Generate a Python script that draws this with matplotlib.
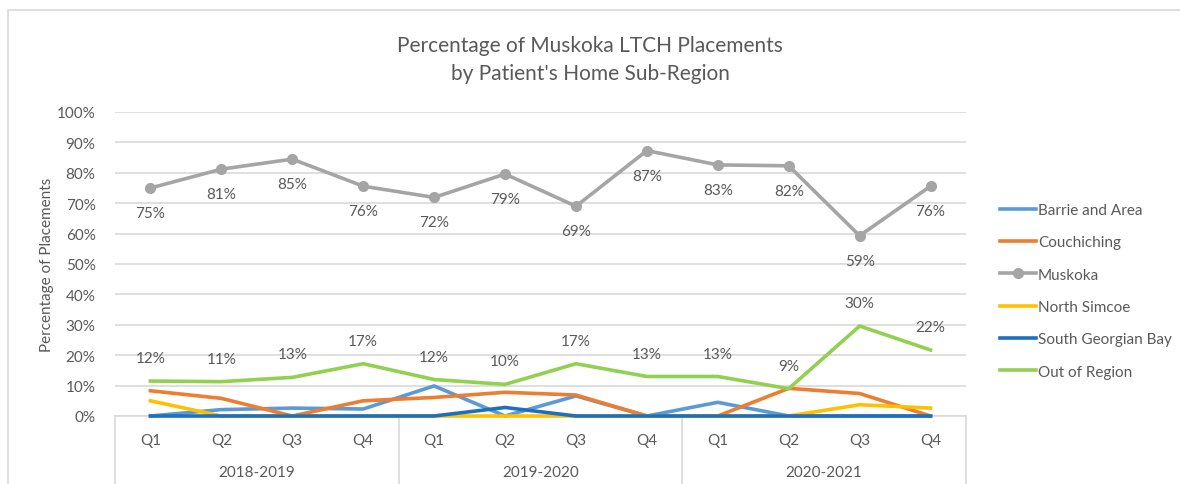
import matplotlib.pyplot as plt
from matplotlib.lines import Line2D
from matplotlib.patches import Rectangle

plt.rcParams['font.family'] = ['Lato', 'DejaVu Sans']

# Datos
quarters = ['Q1', 'Q2', 'Q3', 'Q4'] * 3
years = ['2018-2019', '2019-2020', '2020-2021']
barrie = [0, 2.1, 2.6, 2.3, 9.9, 0, 6.6, 0, 4.5, 0, 0, 0]
couchiching = [8.3, 5.8, 0, 5.0, 6.1, 7.8, 6.9, 0, 0, 9.1, 7.4, 0]
muskoka = [75, 81.2, 84.5, 75.6, 71.9, 79.6, 69, 87.3, 82.6, 82.3, 59.3, 75.6]
north_simcoe = [5.0, 0, 0, 0, 0, 0, 0, 0, 0, 0, 3.7, 2.6]
south_georgian = [0, 0, 0, 0, 0, 2.8, 0, 0, 0, 0, 0, 0]
out_of_region = [11.5, 11.3, 12.7, 17.2, 12, 10.4, 17.2, 13, 13, 9, 29.6, 21.7]
muskoka_labels = ['75%', '81%', '85%', '76%', '72%', '79%', '69%', '87%', '83%', '82%', '59%', '76%']
oor_labels = ['12%', '11%', '13%', '17%', '12%', '10%', '17%', '13%', '13%', '9%', '30%', '22%']

W, H = 1180, 485
fig = plt.figure(figsize=(W / 100, H / 100), dpi=100)
ax = fig.add_axes([115 / W, (H - 417) / H, (966 - 115) / W, (417 - 113) / H])

# Borde exterior del gráfico
fig.patches.append(Rectangle((8 / W, -0.1), 1.2, (H - 11) / H + 0.1, transform=fig.transFigure,
                             fill=False, edgecolor='#D9D9D9', linewidth=1.2))

x = list(range(12))
lw = 2.6
series = [
    ('Barrie and Area', barrie, '#5B9BD5'),
    ('Couchiching', couchiching, '#ED7D31'),
    ('Muskoka', muskoka, '#A5A5A5'),
    ('North Simcoe', north_simcoe, '#FFC000'),
    ('South Georgian Bay', south_georgian, '#1F6FBF'),
    ('Out of Region', out_of_region, '#92D050'),
]
for name, vals, color in series:
    if name == 'Muskoka':
        ax.plot(x, vals, color=color, lw=lw, marker='o', markersize=7, label=name,
                clip_on=False, zorder=3, solid_joinstyle='round')
    else:
        ax.plot(x, vals, color=color, lw=lw, label=name, clip_on=False, zorder=3,
                solid_joinstyle='round')

txt = '#595959'
for i, v in enumerate(muskoka):
    ax.annotate(muskoka_labels[i], (i, v), xytext=(0, -18), textcoords='offset points',
                ha='center', va='center', fontsize=11, color=txt)
for i, v in enumerate(out_of_region):
    ax.annotate(oor_labels[i], (i, v), xytext=(0, 16.5), textcoords='offset points',
                ha='center', va='center', fontsize=11, color=txt)

ax.set_xlim(-0.5, 11.5)
ax.set_ylim(0, 100)
ax.set_yticks(range(0, 101, 10))
ax.set_yticklabels([f'{v}%' for v in range(0, 101, 10)], fontsize=11, color=txt)
ax.tick_params(axis='y', length=0, pad=14)
ax.set_xticks([])
ax.grid(axis='y', color='#D9D9D9', lw=1.2)
ax.set_axisbelow(True)
for s in ['top', 'right', 'left']:
    ax.spines[s].set_visible(False)
ax.spines['bottom'].set_color('#D9D9D9')
ax.spines['bottom'].set_linewidth(1.2)

# Ejes de categoría en dos niveles
tr = ax.get_xaxis_transform()
for i, q in enumerate(quarters):
    ax.text(i, -0.08, q, transform=tr, ha='center', va='center', fontsize=11, color=txt)
for b in [-0.5, 3.5, 7.5, 11.5]:
    ax.plot([b, b], [0, -0.25], transform=tr, color='#D9D9D9', lw=1.2, clip_on=False)
for j, yr in enumerate(years):
    ax.text(j * 4 + 1.5, -0.185, yr, transform=tr, ha='center', va='center', fontsize=11, color=txt)

ax.set_ylabel('Percentage of Placements', fontsize=11, color=txt, labelpad=2)

fig.text(590 / W, 1 - 60 / H, "Percentage of Muskoka LTCH Placements\nby Patient's Home Sub-Region",
         ha='center', va='center', fontsize=15, color=txt, linespacing=1.55)

handles = [Line2D([], [], color=c, lw=lw, marker='o' if n == 'Muskoka' else None, markersize=7)
           for n, v, c in series]
fig.legend(handles, [s[0] for s in series], loc='center left', bbox_to_anchor=(986 / W, 1 - 292 / H),
           frameon=False, fontsize=11, labelcolor=txt, handlelength=2.4, handletextpad=0.1,
           labelspacing=1.2)

plt.savefig('out.png')
